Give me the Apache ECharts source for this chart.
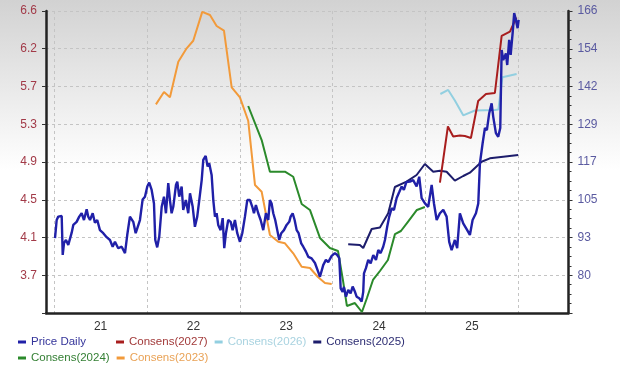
<!DOCTYPE html>
<html><head><meta charset="utf-8">
<script src="https://cdn.jsdelivr.net/npm/echarts@6/dist/echarts.min.js"></script>
<style>
html,body{margin:0;padding:0;background:#fff}
#c{width:620px;height:371px;background:linear-gradient(to bottom,#d2d2d2 0%,#ffffff 46%,#ffffff 100%)}
</style>
</head><body><div id="c"></div>
<script>
const xLabels = ['21','22','23','24','25'];
const xLabelYears = [2021,2022,2023,2024,2025];
const leftTicks = ['3.7','4.1','4.5','4.9','5.3','5.7','6.2','6.6'];
const rightTicks = ['80','93','105','117','129','142','154','166'];

const priceDaily = [
[2021.009,92.0],[2021.027,97.9],[2021.044,99.0],[2021.062,98.5],[2021.081,99.2],[2021.092,86.5],[2021.106,90.4],[2021.127,91.4],[2021.152,89.8],[2021.188,93.7],
[2021.206,96.3],[2021.242,97.3],[2021.270,99.0],[2021.296,100.1],[2021.321,97.9],[2021.350,101.4],[2021.367,99.0],[2021.386,97.9],[2021.415,100.1],[2021.439,97.0],
[2021.464,97.9],[2021.493,94.6],[2021.529,93.6],[2021.565,92.3],[2021.601,91.4],[2021.630,89.2],[2021.655,90.8],[2021.690,88.7],[2021.727,89.2],[2021.763,87.1],
[2021.787,93.0],[2021.816,99.0],[2021.852,97.3],[2021.878,93.6],[2021.895,95.2],[2021.924,97.9],[2021.953,104.6],[2021.978,105.5],[2022.003,108.8],[2022.024,110.1],
[2022.050,107.7],[2022.075,103.3],[2022.089,91.4],[2022.110,89.0],[2022.132,92.5],[2022.158,102.2],[2022.183,105.5],[2022.204,100.1],[2022.229,109.9],[2022.247,104.4],
[2022.265,100.1],[2022.283,102.2],[2022.312,109.3],[2022.326,110.4],[2022.347,105.5],[2022.373,108.8],[2022.390,101.2],[2022.419,104.4],[2022.444,100.1],[2022.463,106.6],
[2022.492,102.2],[2022.516,95.7],[2022.541,99.0],[2022.563,104.4],[2022.589,110.9],[2022.606,117.5],[2022.632,118.8],[2022.653,115.3],[2022.670,116.4],[2022.696,112.6],
[2022.714,104.4],[2022.732,99.0],[2022.750,100.1],[2022.767,96.3],[2022.793,94.6],[2022.815,98.5],[2022.832,88.7],[2022.850,93.6],[2022.875,97.9],[2022.901,97.3],
[2022.922,94.6],[2022.947,97.9],[2022.972,93.6],[2023.001,90.8],[2023.026,93.6],[2023.055,99.0],[2023.080,104.4],[2023.109,104.4],[2023.134,102.2],[2023.152,100.1],
[2023.173,102.8],[2023.198,100.1],[2023.224,97.9],[2023.252,94.6],[2023.281,100.1],[2023.306,97.9],[2023.324,104.4],[2023.342,103.3],[2023.360,100.1],[2023.381,97.9],
[2023.403,94.6],[2023.424,91.4],[2023.446,93.6],[2023.475,94.6],[2023.504,96.3],[2023.532,97.3],[2023.547,99.0],[2023.569,100.1],[2023.590,97.9],[2023.612,94.6],
[2023.633,93.6],[2023.661,90.3],[2023.683,89.2],[2023.712,87.6],[2023.737,85.9],[2023.773,85.4],[2023.809,83.9],[2023.844,81.0],[2023.863,79.4],[2023.898,83.2],
[2023.927,84.9],[2023.952,84.2],[2023.989,86.2],[2024.024,87.1],[2024.049,86.5],[2024.071,85.5],[2024.086,75.6],[2024.107,74.5],[2024.121,76.1],[2024.143,72.9],
[2024.168,75.1],[2024.193,74.0],[2024.215,76.2],[2024.240,74.5],[2024.258,72.9],[2024.286,72.4],[2024.312,71.3],[2024.329,74.5],[2024.337,80.5],[2024.358,82.2],
[2024.383,84.9],[2024.409,83.8],[2024.437,86.5],[2024.466,84.9],[2024.491,88.1],[2024.516,87.1],[2024.544,89.2],[2024.563,91.4],[2024.587,95.7],[2024.609,99.0],
[2024.635,101.7],[2024.660,101.2],[2024.689,105.1],[2024.717,107.0],[2024.743,108.8],[2024.767,107.7],[2024.794,110.3],[2024.832,110.4],[2024.867,110.9],[2024.904,108.8],
[2024.932,112.0],[2024.958,105.0],[2024.994,103.3],[2025.029,102.2],[2025.066,109.3],[2025.091,103.3],[2025.120,97.9],[2025.155,100.1],[2025.191,101.2],[2025.227,99.0],
[2025.255,90.8],[2025.281,88.1],[2025.316,91.4],[2025.341,88.7],[2025.370,100.1],[2025.406,96.8],[2025.449,94.6],[2025.478,93.0],[2025.507,97.9],[2025.543,100.1],
[2025.568,103.3],[2025.586,116.4],[2025.615,122.9],[2025.640,127.9],[2025.661,127.2],[2025.686,132.7],[2025.712,135.9],[2025.729,131.6],[2025.758,126.2],[2025.783,125.0],
[2025.805,127.9],[2025.820,153.3],[2025.837,150.0],[2025.866,152.2],[2025.880,148.4],[2025.901,156.6],[2025.917,151.7],[2025.938,158.7],[2025.955,165.3],[2025.973,163.1],
[2025.992,160.4],[2026.003,163.1]
];
const consens2027 = [[2025.155,4.724],[2025.241,5.338],[2025.298,5.229],[2025.370,5.240],[2025.424,5.234],[2025.489,5.212],[2025.567,5.617],[2025.651,5.693],[2025.747,5.704],[2025.820,6.327],[2025.909,6.374],[2025.979,6.529]];
const consens2026 = [[2025.160,5.693],[2025.244,5.737],[2025.316,5.622],[2025.406,5.460],[2025.532,5.513],[2025.747,5.518],[2025.785,5.524],[2025.828,5.876],[2025.981,5.912]];
const consens2025 = [[2024.167,4.051],[2024.293,4.043],[2024.329,4.010],[2024.420,4.218],[2024.509,4.234],[2024.598,4.389],[2024.670,4.677],[2024.796,4.735],[2024.904,4.808],[2024.993,4.928],[2025.083,4.844],[2025.155,4.855],[2025.227,4.844],[2025.316,4.746],[2025.406,4.797],[2025.478,4.833],[2025.604,4.953],[2025.693,4.990],[2025.837,5.008],[2025.998,5.026]];
const consens2024 = [[2023.090,5.562],[2023.235,5.190],[2023.324,4.844],[2023.486,4.844],[2023.575,4.789],[2023.666,4.491],[2023.755,4.426],[2023.863,4.120],[2023.970,4.010],[2024.057,3.978],[2024.110,3.661],[2024.153,3.377],[2024.239,3.409],[2024.315,3.311],[2024.369,3.464],[2024.434,3.661],[2024.509,3.759],[2024.595,3.879],[2024.671,4.163],[2024.735,4.196],[2024.800,4.283],[2024.907,4.426],[2024.993,4.458]];
const consens2023 = [[2022.096,5.580],[2022.183,5.715],[2022.247,5.657],[2022.337,6.046],[2022.427,6.192],[2022.498,6.275],[2022.595,6.59],[2022.678,6.556],[2022.750,6.436],[2022.829,6.385],[2022.912,5.766],[2023.001,5.657],[2023.090,5.401],[2023.163,4.699],[2023.235,4.625],[2023.324,4.152],[2023.414,4.079],[2023.486,4.062],[2023.575,3.952],[2023.666,3.806],[2023.755,3.792],[2023.841,3.693],[2023.917,3.628],[2023.989,3.617]];

const FONT = '"Liberation Sans", Arial, sans-serif';
const LMIN = 3.3, LMAX = 6.6, LINT = 0.4125;
const RMIN = 67.6, RMAX = 166, RINT = 12.3;
const XMIN = 2020.912, XMAX = 2026.54;

const colors = {
  price: '#2020a8', c27: '#a81e1e', c26: '#92cfe0', c25: '#1d1d6c', c24: '#2b8a2b', c23: '#f29a3a'
};
const textColors = {
  price: '#34349a', c27: '#a23a3a', c26: '#a9d3e0', c25: '#2c2c72', c24: '#337f33', c23: '#e9a256'
};

function line(name, data, color, yIdx, width) {
  return {
    name, type: 'line', data, xAxisIndex: 0, yAxisIndex: yIdx,
    showSymbol: false, symbol: 'none', smooth: false,
    lineStyle: { color, width: width }, itemStyle: { color },
    emphasis: { disabled: true }, silent: true
  };
}

const chart = echarts.init(document.getElementById('c'), null, { renderer: 'canvas' });
const legendCommon = {
  left: 18, orient: 'horizontal', itemGap: 7, itemWidth: 8, itemHeight: 3, icon: 'rect',
  padding: 0, selectedMode: false,
  textStyle: { fontSize: 11.5, fontFamily: FONT, width: 78, lineHeight: 14 }
};
chart.setOption({
  animation: false,
  backgroundColor: 'transparent',
  grid: { left: 46, right: 51.5, top: 11, bottom: 58, containLabel: false, outerBoundsMode: 'none' },
  legend: [
    Object.assign({}, legendCommon, { top: 335, data: [
      { name: 'Price Daily', textStyle: { color: textColors.price } },
      { name: 'Consens(2027)', textStyle: { color: textColors.c27 } },
      { name: 'Consens(2026)', textStyle: { color: textColors.c26 } },
      { name: 'Consens(2025)', textStyle: { color: textColors.c25 } }
    ]}),
    Object.assign({}, legendCommon, { top: 351, data: [
      { name: 'Consens(2024)', textStyle: { color: textColors.c24 } },
      { name: 'Consens(2023)', textStyle: { color: textColors.c23 } }
    ]})
  ],
  xAxis: [
    {
      type: 'value', min: XMIN, max: XMAX, position: 'bottom',
      axisLine: { show: true, onZero: false, lineStyle: { color: '#222', width: 2.5 } },
      axisTick: { show: false }, axisLabel: { show: false },
      splitLine: { show: true, lineStyle: { color: '#c4c4c4', type: [3, 3], width: 1 } }
    },
    {
      type: 'value', min: XMIN - 0.5, max: XMAX - 0.5, position: 'bottom',
      axisLine: { show: false }, axisTick: { show: false }, splitLine: { show: false },
      axisLabel: {
        show: true, margin: 8, color: '#333', fontSize: 12, fontFamily: FONT,
        showMinLabel: true, showMaxLabel: true,
        formatter: function (v) {
          if (Math.abs(v - Math.round(v)) > 1e-6) return '';
          const i = xLabelYears.indexOf(Math.round(v));
          return i >= 0 ? xLabels[i] : '';
        }
      }
    }
  ],
  yAxis: [
    {
      type: 'value', position: 'left', min: LMIN, max: LMAX, interval: LINT,
      axisLine: { show: true, lineStyle: { color: '#222', width: 2.5 } },
      axisTick: { show: true, inside: false, length: 4, lineStyle: { color: '#333', width: 1 } },
      axisLabel: {
        show: true, margin: 9, color: '#a23a48', fontSize: 12, fontFamily: FONT,
        formatter: function (v) {
          const i = Math.round((v - LMIN) / LINT) - 1;
          return i >= 0 && i < leftTicks.length ? leftTicks[i] : '';
        }
      },
      splitLine: { show: true, lineStyle: { color: '#c4c4c4', type: [3, 3], width: 1 } }
    },
    {
      type: 'value', position: 'right', min: RMIN, max: RMAX, interval: RINT,
      axisLine: { show: true, lineStyle: { color: '#222', width: 2.5 } },
      axisTick: { show: true, inside: false, length: 4, lineStyle: { color: '#333', width: 1 } },
      minorTick: { show: true, splitNumber: 4, length: 3, lineStyle: { color: '#333', width: 1 } },
      axisLabel: {
        show: true, margin: 9, color: '#5a5aa0', fontSize: 12, fontFamily: FONT,
        formatter: function (v) {
          const i = Math.round((v - RMIN) / RINT) - 1;
          return i >= 0 && i < rightTicks.length ? rightTicks[i] : '';
        }
      },
      splitLine: { show: false }
    }
  ],
  series: [
    line('Consens(2023)', consens2023, colors.c23, 0, 2),
    line('Consens(2024)', consens2024, colors.c24, 0, 2),
    line('Consens(2025)', consens2025, colors.c25, 0, 2),
    line('Consens(2026)', consens2026, colors.c26, 0, 2),
    line('Consens(2027)', consens2027, colors.c27, 0, 2),
    line('Price Daily', priceDaily, colors.price, 1, 2.4)
  ]
});
</script>
</body></html>
